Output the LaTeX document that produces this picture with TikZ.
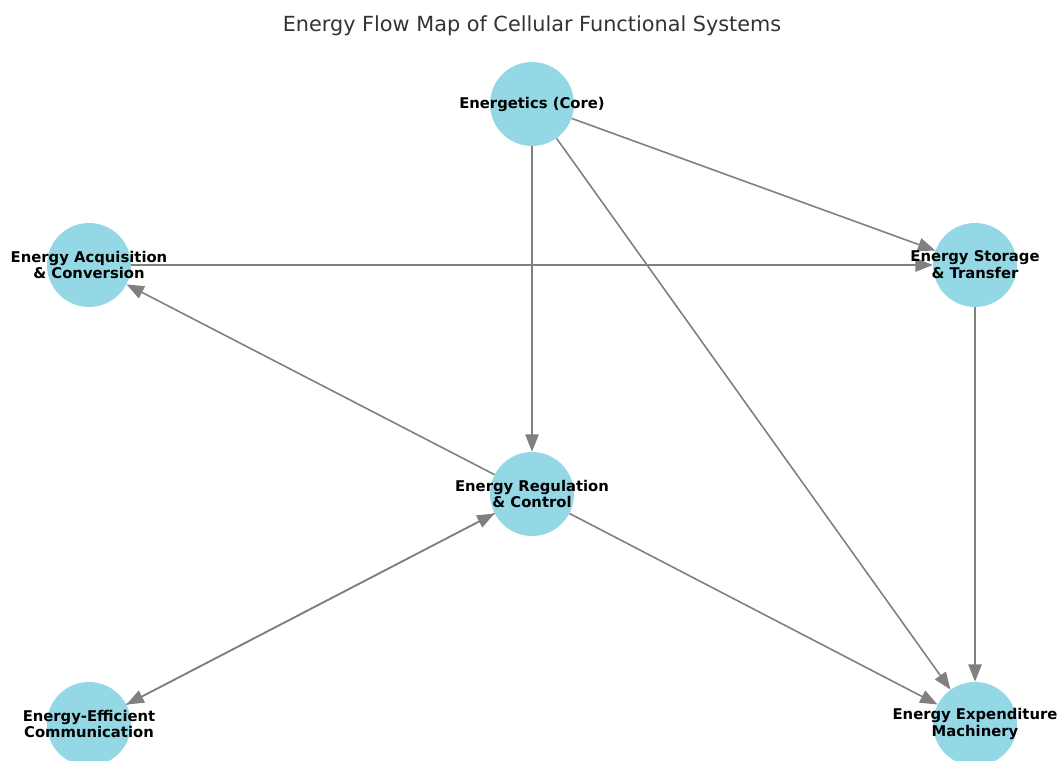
\documentclass[tikz,border=0pt]{standalone}
\usepackage{fontspec}
\setmainfont{DejaVu Sans}
\usetikzlibrary{arrows.meta}
\definecolor{nodefill}{RGB}{148,216,230}
\definecolor{edgegray}{RGB}{128,128,128}
\definecolor{titlegray}{RGB}{51,51,51}
\tikzset{
  sysnode/.style={circle, fill=nodefill, draw=none, minimum size=63pt, inner sep=0pt},
  syslabel/.style={align=center, font=\fontsize{11.1}{12.6}\selectfont\bfseries, text=black, inner sep=0pt},
  flow/.style={draw=edgegray, line width=1.2pt, -{Triangle[length=13pt, width=10pt]}},
  titletext/.style={font=\fontsize{15.6}{18}\selectfont, text=titlegray}
}
\begin{document}
\begin{tikzpicture}[x=0.75pt, y=-0.75pt]
\useasboundingbox (0,0) rectangle (1059,760);
\clip (0,0) rectangle (1059,760);
\node[titletext] (title) at (532,26) {Energy Flow Map of Cellular Functional Systems};
% circles
\node[sysnode] (core) at (532,104) {};
\node[sysnode] (acq) at (89,265) {};
\node[sysnode] (sto) at (975,265) {};
\node[sysnode] (reg) at (532,494) {};
\node[sysnode] (com) at (89,724) {};
\node[sysnode] (exp) at (975,724) {};
% edges
\draw[flow] (core) -- (sto);
\draw[flow] (core) -- (reg);
\draw[flow] (core) -- (exp);
\draw[flow] (acq) -- (sto);
\draw[flow] (reg) -- (acq);
\draw[flow] (reg) -- (exp);
\draw[flow] (reg) -- (com);
\draw[flow] (com) -- (reg);
\draw[flow] (sto) -- (exp);
% labels
\node[syslabel] (core-l) at (core) {Energetics (Core)};
\node[syslabel] (acq-l) at (acq) {Energy Acquisition\\\& Conversion};
\node[syslabel] (sto-l) at (sto) {Energy Storage\\\& Transfer};
\node[syslabel] (reg-l) at (reg) {Energy Regulation\\\& Control};
\node[syslabel] (com-l) at (com) {Energy-Efficient\\Communication};
\node[syslabel] (exp-l) at (exp) {Energy Expenditure\\Machinery};
\end{tikzpicture}
\end{document}
